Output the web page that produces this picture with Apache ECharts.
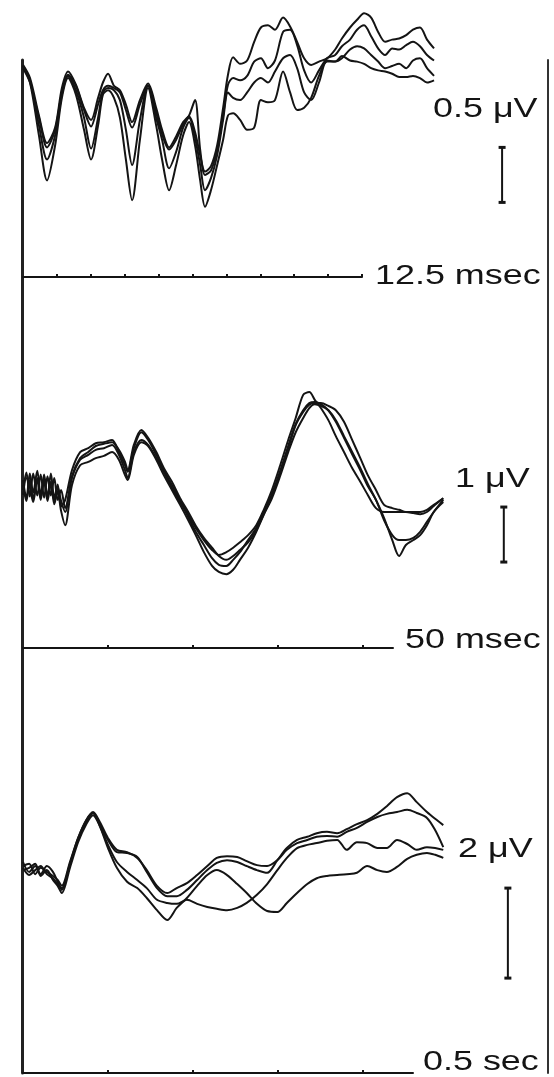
<!DOCTYPE html>
<html>
<head>
<meta charset="utf-8">
<script src="https://cdn.jsdelivr.net/npm/echarts@6/dist/echarts.min.js"></script>
<style>
  html, body { margin: 0; padding: 0; background: #fff; }
  #chart { width: 554px; height: 1077px; }
</style>
</head>
<body>
<div id="chart"></div>
<script>
// Fast sweep: time (ms) and four superimposed responses (µV)
const topTime = [0, 0.26, 0.59, 0.89, 1.19, 1.44, 1.67, 1.96, 2.26, 2.52,
  2.78, 2.96, 3.15, 3.37, 3.59, 3.81, 4.04, 4.33, 4.63, 4.93,
  5.15, 5.41, 5.67, 5.93, 6.15, 6.37, 6.56, 6.74, 6.96, 7.19,
  7.41, 7.59, 7.78, 8.04, 8.30, 8.56, 8.81, 9.07, 9.33, 9.63,
  9.89, 10.15, 10.41, 10.67, 10.96, 11.26, 11.56, 11.81, 12.11, 12.37,
  12.63, 12.89, 13.15, 13.41, 13.67, 13.93, 14.19, 14.44, 14.70, 14.96, 15.22];
const topTrace1 = [1.91, 1.79, 1.45, 1.20, 1.34, 1.70, 1.85, 1.73, 1.52, 1.41,
  1.61, 1.75, 1.83, 1.72, 1.68, 1.55, 1.39, 1.59, 1.74, 1.52,
  1.32, 1.16, 1.26, 1.39, 1.44, 1.30, 1.09, 0.94, 0.99, 1.18,
  1.52, 1.82, 1.98, 1.92, 1.95, 2.12, 2.25, 2.27, 2.23, 2.34,
  2.26, 2.12, 1.97, 1.91, 1.94, 1.97, 2.05, 2.15, 2.25, 2.32,
  2.38, 2.34, 2.21, 2.12, 2.14, 2.15, 2.18, 2.23, 2.25, 2.14, 2.06];
const topTrace2 = [1.88, 1.75, 1.43, 1.16, 1.32, 1.66, 1.82, 1.72, 1.50, 1.35,
  1.55, 1.68, 1.72, 1.70, 1.66, 1.50, 1.34, 1.55, 1.72, 1.48,
  1.28, 1.14, 1.23, 1.37, 1.45, 1.59, 1.14, 0.91, 0.95, 1.14,
  1.45, 1.73, 1.79, 1.77, 1.81, 1.94, 1.97, 1.88, 1.95, 2.21,
  2.23, 2.09, 1.86, 1.75, 1.86, 1.97, 2.00, 2.08, 2.14, 2.23,
  2.27, 2.17, 2.06, 2.00, 2.06, 2.05, 2.09, 2.12, 2.08, 2.00, 1.95];
const topTrace3 = [1.90, 1.77, 1.36, 1.05, 1.27, 1.64, 1.81, 1.68, 1.43, 1.15,
  1.43, 1.66, 1.70, 1.68, 1.59, 1.32, 1.00, 1.41, 1.72, 1.43,
  1.23, 0.97, 1.12, 1.34, 1.43, 1.25, 1.00, 0.77, 0.88, 1.09,
  1.41, 1.66, 1.61, 1.59, 1.66, 1.75, 1.79, 1.75, 1.85, 1.97,
  2.00, 1.88, 1.66, 1.59, 1.75, 1.95, 1.94, 1.97, 2.05, 2.08,
  2.06, 2.00, 1.94, 1.88, 1.90, 1.92, 1.88, 1.95, 1.97, 1.88, 1.81];
const topTrace4 = [1.90, 1.75, 1.27, 0.86, 1.18, 1.61, 1.79, 1.64, 1.32, 1.05,
  1.36, 1.64, 1.68, 1.61, 1.43, 1.05, 0.68, 1.23, 1.70, 1.36,
  1.05, 0.77, 1.00, 1.27, 1.39, 1.18, 0.86, 0.62, 0.77, 1.00,
  1.23, 1.45, 1.47, 1.41, 1.32, 1.34, 1.59, 1.57, 1.59, 1.85,
  1.66, 1.50, 1.52, 1.61, 1.81, 1.94, 1.94, 1.99, 1.95, 1.94,
  1.92, 1.88, 1.86, 1.85, 1.83, 1.80, 1.80, 1.81, 1.79, 1.75, 1.77];

// Medium sweep: time (ms) and responses (µV)
const midTime = [0, 0.5, 1.0, 1.5, 2.1, 2.6, 3.1, 3.6, 4.1, 4.6, 5.1, 5.6, 6.2,
  7.2, 8.4, 9.6,
  10.7, 11.9, 13.1, 14.1, 15.0, 15.4, 16.3, 17.4, 18.4, 19.6,
  20.7, 21.9, 23.1, 24.3, 25.4, 26.6, 27.8, 28.8, 29.9, 30.9,
  31.9, 33.1, 34.3, 35.4, 36.6, 37.8, 39.0, 40.1, 41.2, 42.1,
  42.9, 43.8, 44.9, 46.0, 47.2, 48.4, 49.6, 50.7, 51.9, 53.1,
  54.3, 55.3, 56.3, 57.4, 58.4, 59.4, 60.4, 61.8];
const midTrace1 = [2.18, 1.85, 2.30, 1.95, 2.35, 1.90, 2.28, 1.86, 2.30, 1.85, 2.10, 1.70, 1.82,
  2.36, 2.69, 2.76,
  2.85, 2.87, 2.91, 2.69, 2.45, 2.33, 2.76, 3.05, 2.91, 2.64,
  2.36, 2.09, 1.82, 1.55, 1.31, 1.09, 0.91, 0.82, 0.87, 0.95,
  1.05, 1.18, 1.36, 1.64, 2.00, 2.44, 2.91, 3.31, 3.73, 3.78,
  3.64, 3.49, 3.27, 2.98, 2.69, 2.40, 2.15, 1.91, 1.67, 1.60,
  1.60, 1.60, 1.60, 1.58, 1.56, 1.60, 1.71, 1.85];
const midTrace2 = [2.00, 2.32, 1.88, 2.30, 1.90, 2.28, 1.86, 2.25, 1.90, 2.22, 1.82, 2.00, 1.67,
  2.22, 2.55, 2.64,
  2.73, 2.76, 2.82, 2.64, 2.36, 2.22, 2.69, 2.91, 2.82, 2.58,
  2.33, 2.04, 1.78, 1.51, 1.24, 1.00, 0.76, 0.64, 0.62, 0.73,
  0.87, 1.09, 1.31, 1.60, 1.93, 2.33, 2.80, 3.20, 3.45, 3.58,
  3.60, 3.56, 3.45, 3.24, 2.95, 2.65, 2.36, 2.07, 1.82, 1.45,
  1.18, 1.09, 1.09, 1.13, 1.24, 1.42, 1.60, 1.82];
const midTrace3 = [1.91, 2.22, 2.05, 1.78, 2.20, 1.82, 2.16, 1.80, 2.12, 1.74, 1.98, 1.62, 1.36,
  2.09, 2.45, 2.51,
  2.58, 2.62, 2.69, 2.55, 2.27, 2.18, 2.64, 2.87, 2.80, 2.55,
  2.27, 2.00, 1.73, 1.45, 1.18, 0.87, 0.62, 0.51, 0.47, 0.55,
  0.73, 0.95, 1.24, 1.55, 1.85, 2.25, 2.69, 3.05, 3.31, 3.49,
  3.56, 3.53, 3.45, 3.27, 2.98, 2.69, 2.40, 2.11, 1.82, 1.49,
  1.09, 0.80, 1.00, 1.09, 1.18, 1.36, 1.60, 1.78];
const midTrace4 = [2.09, 1.80, 2.18, 1.84, 2.22, 1.86, 2.22, 1.88, 2.15, 1.82, 2.05, 1.80, 1.60,
  2.25, 2.58, 2.69,
  2.80, 2.84, 2.87, 2.73, 2.51, 2.36, 2.82, 3.09, 2.95, 2.69,
  2.40, 2.15, 1.85, 1.60, 1.35, 1.13, 0.95, 0.80, 0.73, 0.80,
  0.91, 1.05, 1.27, 1.56, 1.89, 2.33, 2.76, 3.18, 3.42, 3.55,
  3.58, 3.58, 3.53, 3.45, 3.24, 2.91, 2.58, 2.27, 2.00, 1.73,
  1.67, 1.64, 1.60, 1.60, 1.60, 1.64, 1.73, 1.85];

// Slow sweep: time (s) and responses (µV)
const botTime = [0, 0.009, 0.018, 0.026, 0.035, 0.044, 0.051, 0.057, 0.069, 0.081,
  0.093, 0.103, 0.113, 0.125, 0.138, 0.153, 0.168, 0.182, 0.197, 0.212,
  0.226, 0.241, 0.256, 0.271, 0.285, 0.300, 0.315, 0.329, 0.344, 0.359,
  0.374, 0.388, 0.403, 0.418, 0.432, 0.447, 0.462, 0.476, 0.491, 0.506,
  0.521, 0.535, 0.550, 0.565, 0.579, 0.594, 0.606, 0.618];
const botTrace1 = [0.40, 0.18, 0.31, 0.13, 0.31, 0.18, -0.04, -0.22, 0.33, 0.89,
  1.29, 1.49, 1.24, 0.89, 0.62, 0.60, 0.51, 0.18, -0.18, -0.36,
  -0.36, -0.22, 0, 0.22, 0.38, 0.44, 0.40, 0.31, 0.22, 0.16,
  0.44, 0.71, 0.89, 0.96, 1.04, 1.07, 1.04, 1.13, 1.24, 1.33,
  1.47, 1.64, 1.84, 1.93, 1.73, 1.51, 1.36, 1.22];
const botTrace2 = [0.31, 0.36, 0.13, 0.27, 0.18, 0.09, 0, -0.13, 0.40, 0.93,
  1.33, 1.51, 1.29, 0.93, 0.67, 0.62, 0.49, 0.22, -0.13, -0.29,
  -0.18, -0.07, 0.11, 0.31, 0.49, 0.53, 0.51, 0.42, 0.33, 0.31,
  0.44, 0.67, 0.82, 0.89, 0.96, 0.98, 0.96, 1.07, 1.16, 1.29,
  1.40, 1.47, 1.51, 1.56, 1.49, 1.38, 1.11, 0.73];
const botTrace3 = [0.22, 0.27, 0.36, 0.09, 0.22, 0, -0.13, -0.29, 0.27, 0.84,
  1.24, 1.44, 1.20, 0.78, 0.40, 0.18, 0, -0.18, -0.44, -0.51,
  -0.53, -0.44, -0.53, -0.60, -0.64, -0.67, -0.62, -0.51, -0.33, -0.09,
  0.22, 0.49, 0.71, 0.78, 0.82, 0.87, 0.89, 0.67, 0.84, 0.82,
  0.71, 0.71, 0.89, 0.80, 0.67, 0.73, 0.71, 0.67];
const botTrace4 = [0.27, 0.11, 0.22, 0.31, 0.13, 0.04, -0.09, -0.18, 0.36, 0.93,
  1.33, 1.49, 1.20, 0.71, 0.27, -0.04, -0.18, -0.40, -0.67, -0.89,
  -0.62, -0.40, -0.13, 0.11, 0.22, 0.11, -0.09, -0.29, -0.53, -0.69,
  -0.71, -0.51, -0.29, -0.09, 0.04, 0.09, 0.11, 0.13, 0.16, 0.31,
  0.22, 0.18, 0.29, 0.47, 0.56, 0.60, 0.56, 0.49];

// Calibration bars (µV) and sweep time bases
const calibValues = [0.5, 1, 2];
const calibLabels = ['0.5 \u03bcV', '1 \u03bcV', '2 \u03bcV'];
const sweepLabels = ['12.5 msec', '50 msec', '0.5 sec'];
const sweepTicks = [
  [1.25, 2.5, 3.75, 5, 6.25, 7.5, 8.75, 10, 11.25, 12.5],
  [12.5, 25, 37.5, 50],
  [0.125, 0.25, 0.375, 0.5]
];

// Panel layout: trace area, time-base axis and calibration bar placement
// (barV is the lower end of each calibration bar)
const panels = [
  { time: topTime, traces: [topTrace1, topTrace2, topTrace3, topTrace4],
    top: 0, height: 275, yMin: 0, yMax: 2.5, xMax: 19.44,
    axisY: 277, axisWidth: 339, axisMax: 12.5, barT: 17.74, barV: 0.66,
    labelPos: [433, 110], sweepPos: [375, 277] },
  { time: midTime, traces: [midTrace1, midTrace2, midTrace3, midTrace4],
    top: 270, height: 385, yMin: -1, yMax: 6, xMax: 77.2,
    axisY: 648, axisWidth: 370, axisMax: 54.4, barT: 70.7, barV: 0.69,
    labelPos: [455, 480], sweepPos: [405, 641] },
  { time: botTime, traces: [botTrace1, botTrace2, botTrace3, botTrace4],
    top: 655, height: 405, yMin: -4, yMax: 5, xMax: 0.772,
    axisY: 1073, axisWidth: 390, axisMax: 0.5735, barT: 0.713, barV: -2.18,
    labelPos: [458, 850], sweepPos: [423, 1063] }
];

const INK = '#141414';
const grids = [], xAxes = [], yAxes = [], series = [], graphics = [];

panels.forEach((p, i) => {
  const traceGrid = grids.length;
  grids.push({ left: 23, width: 525, top: p.top, height: p.height, outerBoundsMode: 'none' });
  xAxes.push({ gridIndex: traceGrid, type: 'value', min: 0, max: p.xMax, show: false });
  yAxes.push({ gridIndex: traceGrid, type: 'value', min: p.yMin, max: p.yMax, show: false });
  const ax = xAxes.length - 1, ay = yAxes.length - 1;

  p.traces.forEach((tr) => {
    series.push({
      type: 'line', xAxisIndex: ax, yAxisIndex: ay,
      data: p.time.map((t, k) => [t, tr[k]]),
      showSymbol: false, smooth: 0.3, silent: true, animation: false,
      lineStyle: { color: INK, width: 2 }
    });
  });

  // calibration bar
  series.push({
    type: 'line', xAxisIndex: ax, yAxisIndex: ay,
    data: [[p.barT, p.barV], [p.barT, p.barV + calibValues[i]]],
    symbol: 'rect', symbolSize: [7, 3], showSymbol: true,
    itemStyle: { color: INK }, lineStyle: { color: INK, width: 2 },
    silent: true, animation: false
  });

  // time-base axis
  const axisGrid = grids.length;
  grids.push({ left: 23, width: p.axisWidth, top: p.axisY - 1, height: 1, outerBoundsMode: 'none' });
  xAxes.push({
    gridIndex: axisGrid, type: 'value', min: 0, max: p.axisMax, position: 'bottom',
    axisLine: { show: true, onZero: false, lineStyle: { color: INK, width: 2 } },
    axisTick: { show: true, inside: true, length: 3, customValues: sweepTicks[i],
      lineStyle: { color: INK, width: 2 } },
    axisLabel: { show: false }, splitLine: { show: false }
  });
  yAxes.push({ gridIndex: axisGrid, type: 'value', min: 0, max: 1, show: false });

  const font = '27px "Liberation Sans", Arial, Helvetica, sans-serif';
  graphics.push({
    type: 'text', x: p.sweepPos[0], y: p.sweepPos[1], scaleX: 1.33, silent: true,
    style: { text: sweepLabels[i], font, fill: INK, align: 'left', verticalAlign: 'middle' }
  });
  graphics.push({
    type: 'text', x: p.labelPos[0], y: p.labelPos[1], scaleX: 1.33, silent: true,
    style: { text: calibLabels[i], font, fill: INK, align: 'left', verticalAlign: 'middle' }
  });
});

// frame: left and right vertical borders
const frameGrid = grids.length;
grids.push({ left: 22, width: 526, top: 60, height: 1013, outerBoundsMode: 'none' });
xAxes.push({ gridIndex: frameGrid, type: 'value', min: 0, max: 1, show: false });
yAxes.push({ gridIndex: frameGrid, type: 'value', min: 0, max: 1, position: 'left',
  axisLine: { show: true, lineStyle: { color: '#222', width: 3 } },
  axisTick: { show: false }, axisLabel: { show: false }, splitLine: { show: false } });
yAxes.push({ gridIndex: frameGrid, type: 'value', min: 0, max: 1, position: 'right',
  axisLine: { show: true, lineStyle: { color: '#333', width: 2 } },
  axisTick: { show: false }, axisLabel: { show: false }, splitLine: { show: false } });

const chart = echarts.init(document.getElementById('chart'), null, { renderer: 'canvas' });
chart.setOption({
  backgroundColor: '#ffffff',
  animation: false,
  grid: grids,
  xAxis: xAxes,
  yAxis: yAxes,
  series: series,
  graphic: graphics
});
</script>
</body>
</html>
